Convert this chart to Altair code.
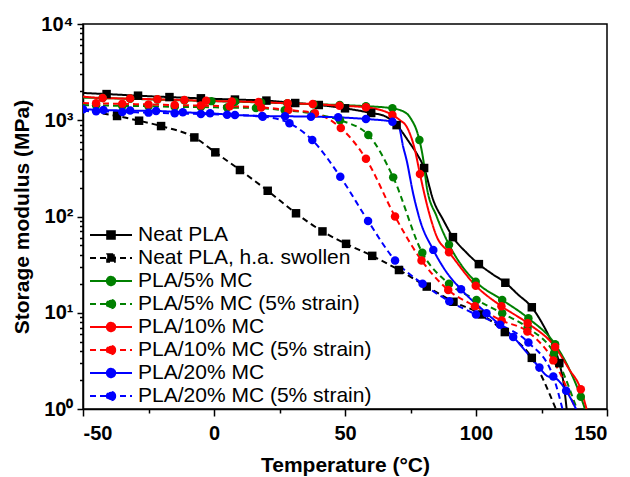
import altair as alt
import pandas as pd

# ---------------- data ----------------
names = ["Neat PLA", "Neat PLA, h.a. swollen", "PLA/5% MC", "PLA/5% MC (5% strain)",
         "PLA/10% MC", "PLA/10% MC (5% strain)", "PLA/20% MC", "PLA/20% MC (5% strain)"]
colors = ["#000000", "#000000", "#008000", "#008000", "#ff0000", "#ff0000", "#0000ff", "#0000ff"]
dashes = [[1, 0], [6, 4], [1, 0], [6, 4], [1, 0], [6, 4], [1, 0], [6, 4]]
markers = ["square", "square", "circle", "circle", "circle", "circle", "circle", "circle"]

neat_T = [-50, -41, -29, -17, -5, 8, 20, 31, 40, 50, 60, 65, 69.7, 74.8, 77.3, 80.2, 83.7, 87.5,
          91.2, 96.4, 101.1, 106, 111.2, 116, 121.3, 125, 128.5, 131.8, 133.5, 134.6]
neat_E = [1920, 1870, 1800, 1740, 1690, 1640, 1600, 1510, 1440, 1330, 1190, 1110, 890, 575, 454, 319,
          148, 92, 61, 42, 32, 25.5, 20.5, 15.5, 11.4, 8.0, 5.2, 3.0, 1.8, 1.0]
neat_M = [0, 1, 1, 1, 1, 1, 1, 1, 1, 1, 1, 0, 1, 0, 0, 1, 0, 0, 1, 0, 1, 0, 1, 0, 1, 0, 0, 1, 0, 0]

swol_T = [-50, -37, -28.6, -20.2, -7.5, 0.5, 9.9, 20.5, 31.3, 41.4, 50.4, 60.4, 70.6, 81.2, 91.4,
          102.2, 111, 121.3, 130.5]
swol_E = [1270, 1107, 989, 870, 663, 464, 304, 185, 108, 70, 52, 39, 27.8, 18.7, 13, 9.6, 6.3, 3.4, 1.0]
swol_M = [0, 1, 1, 1, 1, 1, 1, 1, 1, 1, 1, 1, 1, 1, 1, 1, 1, 1, 0]

mc5_T = [-50, -42.5, -32, -21.6, -11.3, -1, 8, 18, 28, 38, 48, 58, 68.1, 73.5, 75.5, 77.3, 78.4,
         79.9, 81.2, 85, 89.7, 94.5, 99.9, 110, 120, 130.2, 135, 140, 141.6]
mc5_E = [1720, 1700, 1670, 1640, 1610, 1580, 1560, 1530, 1500, 1470, 1440, 1400, 1330, 1180, 1000,
         790, 623, 386, 204, 100, 51, 31, 21, 13.6, 8.75, 4.7, 2.8, 1.34, 1.0]
mc5_M = [0, 1, 1, 1, 1, 1, 1, 1, 1, 1, 1, 1, 1, 0, 0, 0, 1, 0, 0, 0, 1, 0, 1, 1, 1, 1, 0, 1, 0]

mc5s_T = [-50, -45, -35, -25, -15, -5, 5, 16, 27, 38, 48.1, 58.9, 68.4, 79.5, 89.7, 100.2, 110,
          119.7, 129.8, 138.5]
mc5s_E = [1440, 1430, 1410, 1400, 1380, 1370, 1355, 1340, 1270, 1170, 1000, 703, 255, 42, 20, 13.6,
          9.9, 7.0, 3.8, 1.0]
mc5s_M = [0, 1, 1, 1, 1, 1, 1, 1, 1, 1, 1, 1, 1, 1, 1, 1, 1, 1, 1, 0]

mc10_T = [-50, -42.5, -32, -21.6, -11.3, -3, 6.8, 17, 28.1, 37.7, 47.9, 58, 68.1, 71, 73.5, 76.7,
          78.6, 81.8, 85, 89.7, 99.9, 109.7, 119.7, 130.2, 135.5, 140, 142.2]
mc10_E = [1760, 1700, 1680, 1650, 1620, 1590, 1570, 1545, 1500, 1475, 1416, 1364, 1135, 1000, 860,
          490, 277, 117, 62, 42.5, 19.1, 11.7, 7.8, 4.4, 2.6, 1.6, 1.0]
mc10_M = [0, 1, 1, 1, 1, 1, 1, 1, 1, 1, 1, 1, 1, 0, 0, 0, 1, 0, 0, 1, 1, 1, 1, 1, 0, 1, 0]

mc10s_T = [-50, -45, -35, -25, -15, -5, 6, 18, 28.4, 38.5, 48.4, 58, 69.1, 79.2, 89.4, 99.6, 109.8,
           119.6, 129.5, 138]
mc10s_E = [1510, 1500, 1480, 1460, 1440, 1420, 1400, 1360, 1280, 1180, 830, 398, 100, 35, 17.2, 11.7,
           8.3, 6.4, 3.2, 1.0]
mc10s_M = [0, 1, 1, 1, 1, 1, 1, 1, 1, 1, 1, 1, 1, 1, 1, 1, 1, 1, 1, 0]

mc20_T = [-50, -42.2, -32, -22.1, -11.9, -1.5, 8, 18.4, 27.1, 37, 47.4, 58, 68.1, 70.5, 72.2, 73.5,
          76, 78.6, 83.7, 88.5, 94.3, 104, 114.2, 124.2, 127.2, 130.2, 134.4, 138.2]
mc20_E = [1300, 1277, 1260, 1250, 1210, 1180, 1135, 1107, 1100, 1090, 1072, 1030, 966, 870, 531, 386,
          174, 92, 45, 27, 17.5, 9.9, 5.6, 2.7, 2.2, 2.1, 1.55, 1.0]
mc20_M = [1, 1, 1, 1, 1, 1, 1, 1, 1, 1, 1, 1, 1, 0, 0, 0, 0, 0, 1, 0, 1, 1, 1, 1, 0, 0, 1, 0]

mc20s_T = [-50, -45, -35, -25, -15, -5, 5, 18.6, 28.8, 37.5, 48.2, 58.8, 69.1, 79.6, 89.8, 100,
           109.2, 120, 129.5, 133]
mc20s_E = [1250, 1240, 1220, 1200, 1180, 1160, 1140, 1090, 930, 623, 259, 90, 35, 20, 13.2, 9.6, 7.5,
           4.9, 2.17, 1.0]
mc20s_M = [0, 1, 1, 1, 1, 1, 1, 1, 1, 1, 1, 1, 1, 1, 1, 1, 1, 1, 1, 0]

x_major = [-50, 0, 50, 100, 150]
x_minor = [-25, 25, 75, 125]
y_major = [1, 10, 100, 1000, 10000]
y_minor = [m * d for d in [1, 10, 100, 1000] for m in range(2, 10)]

# ---------------- build table ----------------
Ts = [neat_T, swol_T, mc5_T, mc5s_T, mc10_T, mc10s_T, mc20_T, mc20s_T]
Es = [neat_E, swol_E, mc5_E, mc5s_E, mc10_E, mc10s_E, mc20_E, mc20s_E]
Ms = [neat_M, swol_M, mc5_M, mc5s_M, mc10_M, mc10s_M, mc20_M, mc20s_M]
rows = []
for i, (name, shp) in enumerate(zip(names, markers)):
    for t, e, m in zip(Ts[i], Es[i], Ms[i]):
        rows.append({"series": name, "idx": i, "T": t, "E": e, "mk": m, "shp": shp})
df = pd.DataFrame(rows)
legend_df = df.groupby("series", sort=False).first().reset_index()

FONT = "Liberation Sans"
xscale = alt.Scale(domain=[-50, 150], nice=False, zero=False)
yscale = alt.Scale(type="log", domain=[1, 10000], nice=False)
cscale = alt.Scale(domain=names, range=colors)
dscale = alt.Scale(domain=names, range=dashes)

LINE = "M-2.1,0H2.1"
CIRC = "M0.42,0A0.42,0.42,0,1,1,-0.42,0A0.42,0.42,0,1,1,0.42,0Z"
SQR = "M-0.38,-0.38H0.38V0.38H-0.38Z"
paths = [LINE + (SQR if m == "square" else CIRC) for m in markers]
sscale = alt.Scale(domain=names, range=paths)

ylabel = ("datum.value == 1 ? '10\u2070' : datum.value == 10 ? '10\u00b9' : "
          "datum.value == 100 ? '10\u00b2' : datum.value == 1000 ? '10\u00b3' : '10\u2074'")

ax_x = alt.Axis(values=x_major, labelExpr="'' + datum.value", title="Temperature (°C)",
                tickSize=7, labelPadding=7, titlePadding=11, labelOverlap=False, orient="bottom")
ax_y = alt.Axis(values=y_major, labelExpr=ylabel, title="Storage modulus (MPa)",
                tickSize=6, labelPadding=4, titlePadding=8, labelOverlap=False, orient="left")
ax_x_min = alt.Axis(values=x_minor, labels=False, title=None, domain=False, tickSize=4, orient="bottom")
ax_y_min = alt.Axis(values=y_minor, labels=False, title=None, domain=False, tickSize=3.5, orient="left")

leg = alt.Legend(orient="none", legendX=17, legendY=200, title=None, padding=0,
                 labelFont=FONT, labelFontSize=21, labelColor="black", labelLimit=500,
                 symbolSize=400, symbolStrokeWidth=2, symbolOpacity=1,
                 labelOffset=16, rowPadding=2)

base = alt.Chart(df)

lines = base.mark_line(interpolate="monotone", strokeWidth=2, clip=True).encode(
    x=alt.X("T:Q", scale=xscale, axis=ax_x),
    y=alt.Y("E:Q", scale=yscale, axis=ax_y),
    stroke=alt.Stroke("series:N", scale=cscale, legend=None),
    strokeDash=alt.StrokeDash("series:N", scale=dscale, legend=None),
    detail="idx:N",
)

points = base.transform_filter("datum.mk == 1").mark_point(
    filled=True, size=72, opacity=1, strokeWidth=0, clip=True
).encode(
    x=alt.X("T:Q", scale=xscale, axis=ax_x_min),
    y=alt.Y("E:Q", scale=yscale, axis=ax_y_min),
    fill=alt.Fill("series:N", scale=cscale, legend=None),
    shape=alt.Shape("shp:N", scale=None),
)

dummy = alt.Chart(legend_df).mark_point(filled=True, opacity=0, strokeWidth=2, clip=True).encode(
    x=alt.X("T:Q", scale=xscale, axis=None),
    y=alt.Y("E:Q", scale=yscale, axis=None),
    fill=alt.Fill("series:N", scale=cscale, legend=leg),
    stroke=alt.Stroke("series:N", scale=cscale, legend=leg),
    strokeDash=alt.StrokeDash("series:N", scale=dscale, legend=leg),
    shape=alt.Shape("series:N", scale=sscale, legend=leg),
)

chart = alt.layer(lines, points, dummy).resolve_axis(
    x="independent", y="independent"
).resolve_legend(
    fill="independent", stroke="independent", strokeDash="independent", shape="independent"
).properties(
    width=524, height=385,
    padding={"left": 75, "top": 16, "right": 15, "bottom": 68},
    autosize=alt.AutoSizeParams(type="none"),
).configure_view(
    stroke="black", strokeWidth=1.5
).configure_axis(
    grid=False, domainColor="black", domainWidth=1.5, tickColor="black", tickWidth=1.5,
    labelFont=FONT, labelFontSize=20, labelFontWeight="bold", labelColor="black",
    titleFont=FONT, titleFontSize=21, titleFontWeight="bold", titleColor="black",
)

chart.save("out.html", embed_options={"renderer": "svg", "actions": False})
